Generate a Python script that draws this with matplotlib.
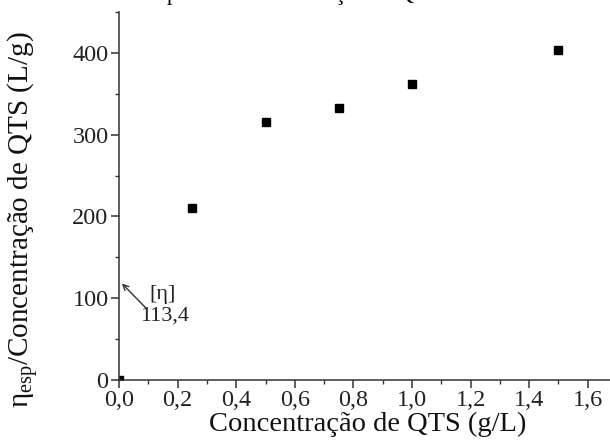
import numpy as np
import matplotlib
matplotlib.use("Agg")
import matplotlib.pyplot as plt
from matplotlib.ticker import MultipleLocator, FuncFormatter

plt.rcParams['font.family'] = ['Liberation Serif', 'DejaVu Serif']
plt.rcParams['mathtext.fontset'] = 'custom'
plt.rcParams['mathtext.rm'] = 'Liberation Serif'

# data
conc = [0.0, 0.25, 0.5, 0.75, 1.0, 1.5]
visc = [0.0, 210, 316, 333, 362, 404]
intrinsic = 113.4

fig = plt.figure(figsize=(6.1, 4.4), dpi=100)
W, H = 610, 440
x0, x1 = 119, 119 + 1.7 * 293
y0, y1 = 380, 12
ax = fig.add_axes([x0 / W, 1 - y0 / H, (x1 - x0) / W, (y0 - y1) / H])

ax.plot(conc, visc, 's', color='black', markersize=5.5)

ax.set_xlim(0, 1.7)
ax.set_ylim(0, 450)
ax.xaxis.set_major_locator(MultipleLocator(0.2))
ax.xaxis.set_minor_locator(MultipleLocator(0.1))
ax.yaxis.set_major_locator(MultipleLocator(100))
ax.yaxis.set_minor_locator(MultipleLocator(50))
ax.xaxis.set_major_formatter(FuncFormatter(lambda v, p: f"{v:.1f}".replace('.', ',')))
ax.spines['top'].set_visible(False)
ax.spines['right'].set_visible(False)
for s in ['left', 'bottom']:
    ax.spines[s].set_linewidth(1.1)
    ax.spines[s].set_color('#333333')
ax.tick_params(which='major', direction='out', length=5.5, width=1.1, pad=2,
               labelsize=17.5, colors='#333333', labelcolor='#222222')
ax.tick_params(which='minor', direction='out', length=3, width=1.0, colors='#333333')

ax.set_xlabel('Concentração de QTS (g/L)', fontsize=20.5, labelpad=0, color='#111111')
ax.set_ylabel(r'$\mathregular{η_{esp}}$/Concentração de QTS (L/g)', fontsize=21, color='#111111')
ax.yaxis.set_label_coords((41 - x0) / (x1 - x0), (y0 - 220) / (y0 - y1))

# arrow pointing at the intercept
ax.annotate('', xy=(0.01, 118), xytext=(0.092, 88),
            arrowprops=dict(arrowstyle='->', color='#333333', lw=1.0, shrinkA=0, shrinkB=0))
ax.text(0.147, 105, '[η]', fontsize=16, ha='center', va='center', color='#222222')
ax.text(0.154, 78, f"{intrinsic:.1f}".replace('.', ','), fontsize=16, ha='center', va='center', color='#222222')

# cropped caption at the top edge
fig.text(0.059, 1.0, 'Viscosidade específica/Concentração de QTS', fontsize=16, ha='left', va='baseline')

fig.savefig('out.png', dpi=100)
